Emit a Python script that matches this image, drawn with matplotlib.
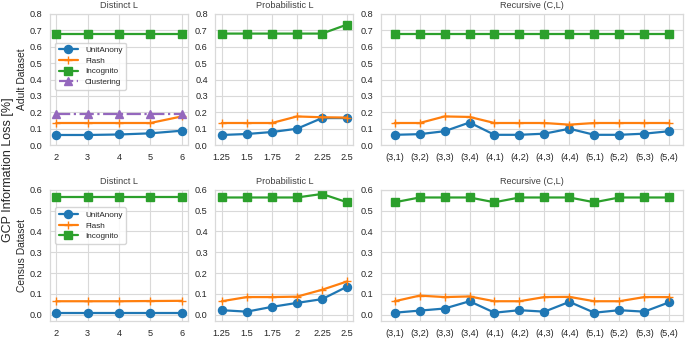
import matplotlib
matplotlib.use("Agg")
import matplotlib.pyplot as plt
import seaborn as sns
import numpy as np

# ================================================
# Data
# ================================================
distinct_x = [2, 3, 4, 5, 6]
prob_x = [1.25, 1.5, 1.75, 2, 2.25, 2.5]
prob_labels = ["1.25", "1.5", "1.75", "2", "2.25", "2.5"]
rec_labels = ["(3,1)", "(3,2)", "(3,3)", "(3,4)", "(4,1)", "(4,2)",
              "(4,3)", "(4,4)", "(5,1)", "(5,2)", "(5,3)", "(5,4)"]

# Adult dataset
adult_dist_unit = [0.062, 0.062, 0.065, 0.072, 0.088]
adult_dist_flash = [0.135, 0.135, 0.135, 0.135, 0.175]
adult_dist_incog = [0.68, 0.68, 0.68, 0.68, 0.68]
adult_dist_clust = [0.19, 0.19, 0.19, 0.19, 0.19]

adult_prob_unit = [0.062, 0.068, 0.080, 0.100, 0.165, 0.165]
adult_prob_flash = [0.135, 0.135, 0.135, 0.175, 0.170, 0.168]
adult_prob_incog = [0.68, 0.68, 0.68, 0.68, 0.68, 0.735]

adult_rec_unit = [0.063, 0.067, 0.085, 0.138, 0.063, 0.063,
                  0.070, 0.100, 0.063, 0.063, 0.070, 0.085]
adult_rec_flash = [0.135, 0.135, 0.175, 0.172, 0.135, 0.135,
                   0.135, 0.125, 0.135, 0.135, 0.135, 0.135]
adult_rec_incog = [0.68] * 12

# Census dataset
census_dist_unit = [0.010, 0.010, 0.010, 0.010, 0.010]
census_dist_flash = [0.065, 0.065, 0.065, 0.066, 0.067]
census_dist_incog = [0.563, 0.563, 0.563, 0.563, 0.563]

census_prob_unit = [0.022, 0.015, 0.038, 0.057, 0.075, 0.135]
census_prob_flash = [0.065, 0.085, 0.085, 0.087, 0.120, 0.160]
census_prob_incog = [0.563, 0.563, 0.563, 0.563, 0.580, 0.540]

census_rec_unit = [0.010, 0.020, 0.030, 0.065, 0.010, 0.022,
                   0.015, 0.062, 0.010, 0.022, 0.015, 0.060]
census_rec_flash = [0.065, 0.092, 0.085, 0.088, 0.065, 0.065,
                    0.085, 0.086, 0.065, 0.065, 0.085, 0.085]
census_rec_incog = [0.540, 0.563, 0.563, 0.563, 0.540, 0.563,
                    0.563, 0.563, 0.540, 0.563, 0.563, 0.563]

# ================================================
# Style
# ================================================
sns.set_style("whitegrid")
plt.rcParams['font.family'] = ['Liberation Sans', 'DejaVu Sans']
plt.rcParams['axes.edgecolor'] = '.85'
plt.rcParams['grid.color'] = '.85'

C_UNIT = '#1f77b4'
C_FLASH = '#ff7f0e'
C_INCOG = '#2ca02c'
C_CLUST = '#9467bd'

def draw_series(ax, x, unit, flash, incog, clust=None):
    ax.plot(x, unit, color=C_UNIT, marker='o', ms=5.8, lw=1.6, label='UnitAnony')
    ax.plot(x, flash, color=C_FLASH, marker='+', ms=6, mew=1.0, lw=1.6, label='Flash')
    ax.plot(x, incog, color=C_INCOG, marker='s', ms=5.8, lw=1.6, label='Incognito')
    if clust is not None:
        ax.plot(x, clust, color=C_CLUST, marker='^', ms=5.8, lw=1.6, ls='-.',
                label='Clustering')

fig = plt.figure(figsize=(6.85, 3.39), dpi=100)
gs = fig.add_gridspec(2, 3, width_ratios=[1, 1, 2.19],
                      left=0.073, right=0.997, top=0.959, bottom=0.053,
                      wspace=0.143, hspace=0.34)

rows = [
    ("Adult Dataset", (0, 0.8),
     (adult_dist_unit, adult_dist_flash, adult_dist_incog, adult_dist_clust),
     (adult_prob_unit, adult_prob_flash, adult_prob_incog),
     (adult_rec_unit, adult_rec_flash, adult_rec_incog), (0.0, 0.8), 0.78),
    ("Census Dataset", (-0.03, 0.6),
     (census_dist_unit, census_dist_flash, census_dist_incog, None),
     (census_prob_unit, census_prob_flash, census_prob_incog),
     (census_rec_unit, census_rec_flash, census_rec_incog), (0.0, 0.6), 0.865),
]

tick_fs = 6.6
title_fs = 6.6
rec_x = np.arange(len(rec_labels))

for r, (rowname, ylim, dist, prob, rec, tickrange, leg_y) in enumerate(rows):
    yticks = np.round(np.arange(tickrange[0], tickrange[1] + 0.001, 0.1), 1)

    ax1 = fig.add_subplot(gs[r, 0])
    draw_series(ax1, distinct_x, *dist)
    ax1.set_xticks(distinct_x)
    ax1.set_title("Distinct L", fontsize=title_fs, pad=4, color='.25')
    ax1.legend(loc='upper left', bbox_to_anchor=(0.036, leg_y), fontsize=5.9,
               frameon=True, borderpad=0.45, handlelength=2.4,
               labelspacing=0.35, handletextpad=0.8, borderaxespad=0.0)

    ax2 = fig.add_subplot(gs[r, 1])
    draw_series(ax2, prob_x, *prob)
    ax2.set_xticks(prob_x)
    ax2.set_xticklabels(prob_labels)
    ax2.set_title("Probabilistic L", fontsize=title_fs, pad=4, color='.25')

    ax3 = fig.add_subplot(gs[r, 2])
    draw_series(ax3, rec_x, *rec)
    ax3.set_xticks(rec_x)
    ax3.set_xticklabels(rec_labels)
    ax3.set_title("Recursive (C,L)", fontsize=title_fs, pad=4, color='.25')

    for ax in (ax1, ax2, ax3):
        ax.set_ylim(*ylim)
        ax.set_yticks(yticks)
        ax.tick_params(axis='both', labelsize=tick_fs, pad=2, colors='.15')
        for s in ax.spines.values():
            s.set_linewidth(0.9)

    # row label, to the left of the first column's tick labels
    pos = ax1.get_position()
    fig.text(0.032, (pos.y0 + pos.y1) / 2, rowname, rotation=90,
             ha='center', va='center', fontsize=7.4, color='.15')

fig.text(0.012, 0.5, "GCP Information Loss [%]", rotation=90,
         va='center', ha='center', fontsize=9, color='.15')

fig.savefig("out.png", dpi=100)
